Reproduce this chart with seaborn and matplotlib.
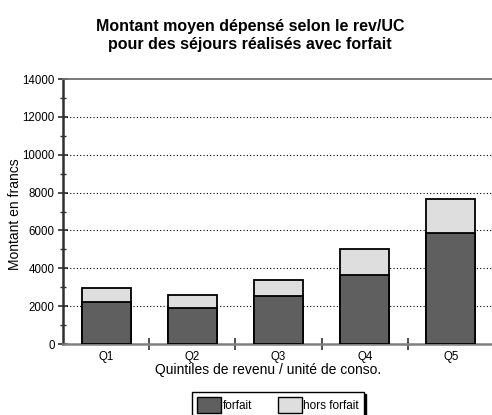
import numpy as np
import pandas as pd
import matplotlib
matplotlib.use("Agg")
import matplotlib.pyplot as plt
import seaborn as sns
from matplotlib.patches import Patch
from matplotlib.ticker import MultipleLocator, FixedLocator

# values
quintiles = ["Q1", "Q2", "Q3", "Q4", "Q5"]
forfait = [2200, 1890, 2520, 3660, 5840]
hors_forfait = [780, 700, 840, 1340, 1840]

total = [f + h for f, h in zip(forfait, hors_forfait)]
df = pd.DataFrame({"quintile": quintiles, "forfait": forfait, "total": total})

sns.set_theme(style="white")
plt.rcParams["font.family"] = ["Liberation Sans", "DejaVu Sans"]
plt.rcParams["text.color"] = "black"
plt.rcParams["axes.labelcolor"] = "black"
plt.rcParams["xtick.color"] = "black"
plt.rcParams["ytick.color"] = "black"

fig = plt.figure(figsize=(4.92, 4.15), dpi=100)
ax = fig.add_axes([63 / 492, (415 - 344) / 415, (494 - 63) / 492, 265 / 415])

dark = "#5f5f5f"
light = "#dedede"

# stacked bars: total (light) behind, forfait (dark) in front
sns.barplot(data=df, x="quintile", y="total", color=light, width=0.57,
            edgecolor="black", linewidth=1.3, saturation=1, ax=ax, zorder=3)
sns.barplot(data=df, x="quintile", y="forfait", color=dark, width=0.57,
            edgecolor="black", linewidth=1.3, saturation=1, ax=ax, zorder=4)

ax.set_xlim(-0.5, 4.5)
ax.set_ylim(0, 14000)

# dotted grid
for y in range(2000, 14000, 2000):
    ax.axhline(y, color="black", linestyle=(0, (1, 2)), linewidth=0.8, zorder=1)

ax.spines["right"].set_visible(False)
ax.spines["top"].set_color("#707070")
ax.spines["top"].set_linewidth(1.3)
ax.spines["left"].set_color("#303030")
ax.spines["left"].set_linewidth(1.8)
ax.spines["bottom"].set_color("#808080")
ax.spines["bottom"].set_linewidth(1.8)

ax.yaxis.set_major_locator(MultipleLocator(2000))
ax.yaxis.set_minor_locator(MultipleLocator(1000))
ax.tick_params(axis="y", which="major", direction="inout", length=7, width=1.2,
               color="#303030", labelsize=8.3, left=True, pad=2.5)
ax.tick_params(axis="y", which="minor", direction="inout", length=4, width=1.0,
               color="#303030", left=True)

ax.xaxis.set_minor_locator(FixedLocator([0.5, 1.5, 2.5, 3.5]))
ax.tick_params(axis="x", which="major", length=0, labelsize=8.3, pad=5)
ax.tick_params(axis="x", which="minor", direction="inout", length=8, width=1.2,
               color="#303030", bottom=True)

ax.set_xlabel("Quintiles de revenu / unité de conso.", fontsize=10)
ax.xaxis.label.set_va("center")
ax.xaxis.set_label_coords((268 - 63) / 431, (344 - 370) / 265)
ax.set_ylabel("Montant en francs", fontsize=10)
ax.yaxis.label.set_va("center")
ax.yaxis.set_label_coords((15 - 63) / 431, (344 - 214) / 265)

fig.text(250 / 492, 1 - 35 / 415,
         "Montant moyen dépensé selon le rev/UC\npour des séjours réalisés avec forfait",
         ha="center", va="center", fontsize=11.5, fontweight="bold", linespacing=1.25)

handles = [Patch(facecolor=dark, edgecolor="black", label="forfait"),
           Patch(facecolor=light, edgecolor="black", label="hors forfait")]
leg = fig.legend(handles=handles, loc="upper left", bbox_to_anchor=(192 / 492, 1 - 392 / 415),
                 ncol=2, fontsize=8.5, frameon=True, fancybox=False, edgecolor="black",
                 handlelength=2.0, handleheight=1.7, handletextpad=0.15,
                 columnspacing=2.2, borderpad=0.45, borderaxespad=0,
                 shadow={"color": "black", "alpha": 1, "ox": 1.2, "oy": -1.2})
leg.get_frame().set_linewidth(1.0)

fig.savefig("out.png", dpi=100)
